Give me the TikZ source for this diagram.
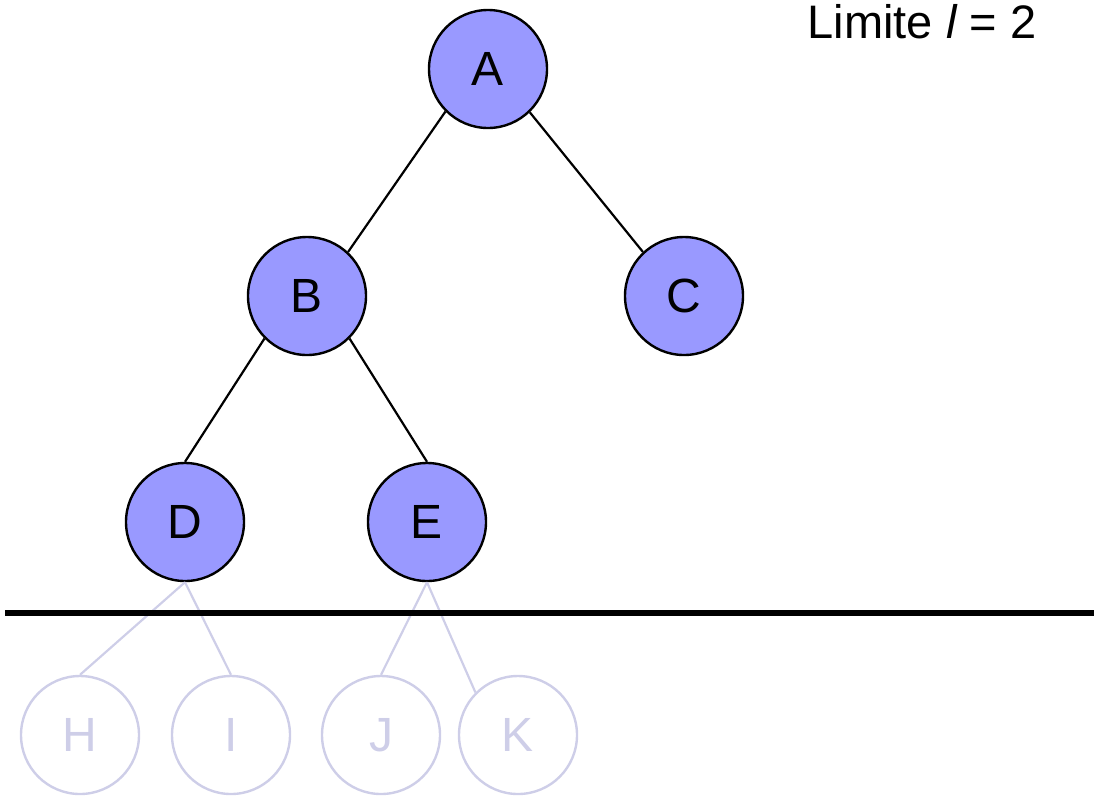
\documentclass[tikz,border=0pt]{standalone}
\usepackage{fontspec}
\setmainfont{Liberation Sans}
\definecolor{nodefill}{RGB}{153,153,255}
\definecolor{faded}{RGB}{206,206,232}
\begin{document}
\begin{tikzpicture}[x=1pt,y=-1pt,
  treenode/.style={circle, draw=black, fill=nodefill, line width=2.4pt,
    minimum size=118pt, inner sep=0pt, font=\fontsize{48}{56}\selectfont},
  ghostnode/.style={circle, draw=faded, line width=2.4pt,
    minimum size=118pt, inner sep=0pt, text=faded, font=\fontsize{48}{56}\selectfont},
  edge/.style={draw=black, line width=2.2pt},
  ghostedge/.style={draw=faded, line width=2.2pt}]
\useasboundingbox (0,0) rectangle (1094,796);

% explored part of the tree
\node[treenode] (A) at (488,69) {A};
\node[treenode] (B) at (307,296) {B};
\node[treenode] (C) at (684,296) {C};
\node[treenode] (D) at (185,522) {D};
\node[treenode] (E) at (427,522) {E};

% nodes beyond the depth limit
\node[ghostnode] (H) at (80,735) {H};
\node[ghostnode] (I) at (231,735) {I};
\node[ghostnode] (J) at (381,735) {J};
\node[ghostnode] (K) at (518,735) {K};

\draw[edge] (A.225) -- (B.47);
\draw[edge] (A.314) -- (C.133);
\draw[edge] (B.south west) -- (D.north);
\draw[edge] (B.south east) -- (E.north);

\draw[ghostedge] (D.south) -- (H.north);
\draw[ghostedge] (D.south) -- (I.north);
\draw[ghostedge] (E.south) -- (J.north);
\draw[ghostedge] (E.south) -- (K.north west);

% depth limit
\coordinate (limL) at (5,613);
\coordinate (limR) at (1094,613);
\draw[line width=6pt] (limL) -- (limR);

\node[font=\fontsize{47}{55}\selectfont] (label) at (922,22) {Limite {\itshape l} = 2};
\end{tikzpicture}
\end{document}
